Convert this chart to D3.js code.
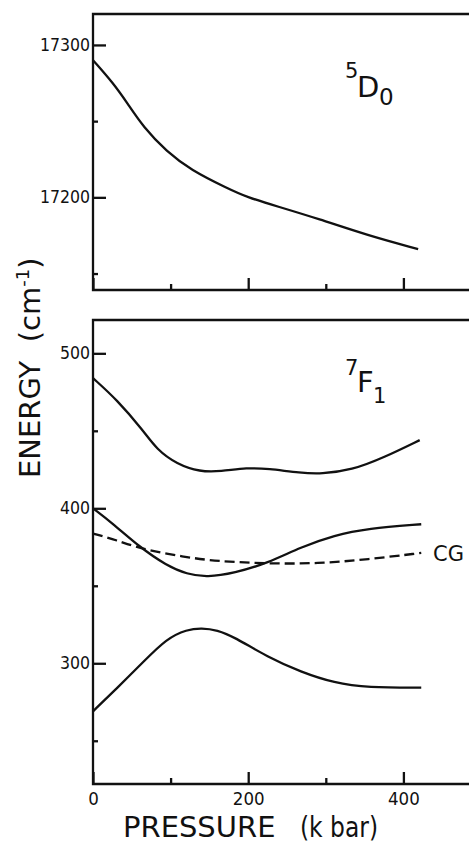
<!DOCTYPE html>
<html>
<head>
<meta charset="utf-8">
<script src="https://cdn.jsdelivr.net/npm/d3@7/dist/d3.min.js"></script>
<style>
  html, body { margin: 0; padding: 0; background: #fff; }
  svg { display: block; }
  text { fill: #111; }
</style>
</head>
<body>
<svg id="chart" width="469" height="844"></svg>
<script>
// ---- Data ----
// 5D0 level (top panel)
const d0Pressure = [0, 26, 44, 65, 95, 126, 173, 199, 238, 290, 354, 419];
const d0Energy   = [17290, 17275, 17262, 17246, 17230, 17218, 17206, 17200, 17194, 17186, 17175, 17166];

// 7F1 levels (bottom panel)
const f1UpperPressure = [0, 31, 65, 82, 108, 138, 164, 199, 225, 268, 294, 333, 376, 421];
const f1UpperEnergy   = [484, 470, 450, 438, 428.5, 423.5, 423.8, 426.2, 425.6, 422.8, 422.2, 424.5, 433, 444];

const f1MiddlePressure = [0, 26, 60, 95, 121, 147, 182, 225, 268, 311, 354, 423];
const f1MiddleEnergy   = [400, 390, 375, 363, 357.5, 355.5, 358.2, 364.6, 375, 382.6, 387, 389.7];

const f1LowerPressure = [0, 31, 65, 95, 121, 140, 160, 182, 225, 268, 311, 354, 423];
const f1LowerEnergy   = [269, 284, 301, 316, 321.8, 322.8, 321.5, 317, 304, 294.4, 287.3, 284.3, 284.3];

const cgPressure = [0, 31, 60, 117, 160, 225, 290, 354, 423];
const cgEnergy   = [383.7, 379.4, 374, 368.6, 365.8, 364.3, 364.3, 367, 371.2];

// Tick values
const xMajorTicks = [0, 200, 400];
const xMinorTicks = [100, 300];
const topMajorTicks = [17200, 17300];
const topMinorTicks = [17150, 17250];
const botMajorTicks = [300, 400, 500];
const botMinorTicks = [250, 350, 450];

// ---- Layout ----
const svg = d3.select("#chart");
const left = 93;
const x = d3.scaleLinear().domain([0, 500]).range([left, left + 0.776 * 500]);

const yTop = d3.scaleLinear().domain([17139.2, 17320.3]).range([290, 14]);
const yBot = d3.scaleLinear().domain([222.1, 521.5]).range([784, 320]);

const tickFont = "'DejaVu Sans Condensed', 'DejaVu Sans', sans-serif";
const strokeW = 2.3;

function frame(y) {
  const [y0, y1] = y.range(); // bottom, top
  svg.append("path")
    .attr("d", `M${x.range()[1] + 20},${y1}H${left}V${y0}H${x.range()[1] + 20}`)
    .attr("fill", "none").attr("stroke", "#111").attr("stroke-width", strokeW);
}

function yAxes(y, major, minor) {
  const gMaj = svg.append("g").attr("transform", `translate(${left},0)`)
    .call(d3.axisLeft(y).tickValues(major).tickSize(-13).tickSizeOuter(0).tickPadding(3).tickFormat(d3.format("d")));
  const gMin = svg.append("g").attr("transform", `translate(${left},0)`)
    .call(d3.axisLeft(y).tickValues(minor).tickSize(-5).tickSizeOuter(0).tickFormat(""));
  [gMaj, gMin].forEach(g => {
    g.select(".domain").remove();
    g.selectAll("line").attr("stroke", "#111").attr("stroke-width", strokeW);
    g.selectAll("text").attr("font-family", tickFont).attr("font-size", 17.5).attr("fill", "#111");
  });
}

function xAxes(y, labels) {
  const yb = y.range()[0];
  const ax = d3.axisBottom(x).tickValues(xMajorTicks).tickSize(-12).tickSizeOuter(0).tickPadding(8);
  if (!labels) ax.tickFormat("");
  const gMaj = svg.append("g").attr("transform", `translate(0,${yb})`).call(ax);
  const gMin = svg.append("g").attr("transform", `translate(0,${yb})`)
    .call(d3.axisBottom(x).tickValues(xMinorTicks).tickSize(-6).tickSizeOuter(0).tickFormat(""));
  [gMaj, gMin].forEach(g => {
    g.select(".domain").remove();
    g.selectAll("line").attr("stroke", "#111").attr("stroke-width", strokeW);
    g.selectAll("text").attr("font-family", tickFont).attr("font-size", 18.5).attr("fill", "#111");
  });
}

function curve(px, py, y, dash) {
  const pts = px.map((p, i) => [p, py[i]]);
  const line = d3.line().x(d => x(d[0])).y(d => y(d[1])).curve(d3.curveBasis);
  const path = svg.append("path").datum(pts)
    .attr("d", line).attr("fill", "none").attr("stroke", "#111")
    .attr("stroke-width", strokeW).attr("stroke-linejoin", "round");
  if (dash) path.attr("stroke-dasharray", dash);
}

// Top panel
frame(yTop);
yAxes(yTop, topMajorTicks, topMinorTicks);
xAxes(yTop, false);
curve(d0Pressure, d0Energy, yTop);

// Bottom panel
frame(yBot);
yAxes(yBot, botMajorTicks, botMinorTicks);
xAxes(yBot, true);
curve(f1UpperPressure, f1UpperEnergy, yBot);
curve(f1MiddlePressure, f1MiddleEnergy, yBot);
curve(f1LowerPressure, f1LowerEnergy, yBot);
curve(cgPressure, cgEnergy, yBot, "10,5");

// Level labels
const lblFont = "'DejaVu Sans', sans-serif";
const t1 = svg.append("text").attr("font-family", lblFont);
t1.append("tspan").attr("x", 345).attr("y", 78).attr("font-size", 21).text("5");
t1.append("tspan").attr("x", 357).attr("y", 97).attr("font-size", 29).text("D");
t1.append("tspan").attr("x", 379).attr("y", 105).attr("font-size", 23).text("0");

const t2 = svg.append("text").attr("font-family", lblFont);
t2.append("tspan").attr("x", 345).attr("y", 375).attr("font-size", 21).text("7");
t2.append("tspan").attr("x", 357).attr("y", 392).attr("font-size", 29).text("F");
t2.append("tspan").attr("x", 373).attr("y", 403).attr("font-size", 21).text("1");

svg.append("text").attr("x", 433).attr("y", 561).attr("font-family", lblFont)
  .attr("font-size", 21).text("CG");

// Axis titles
svg.append("text").attr("x", 123).attr("y", 837).attr("font-family", lblFont)
  .attr("font-size", 29).text("PRESSURE");
svg.append("text").attr("x", 300).attr("y", 837).attr("font-family", lblFont)
  .attr("font-size", 28).attr("textLength", 78).attr("lengthAdjust", "spacingAndGlyphs")
  .text("(k bar)");

const yt = svg.append("text").attr("font-family", lblFont).attr("font-size", 29)
  .attr("transform", "translate(40,478) rotate(-90)");
yt.append("tspan").text("ENERGY\u00a0\u00a0(cm");
yt.append("tspan").attr("font-size", 18).attr("dy", -11).text("-1");
yt.append("tspan").attr("dy", 11).text(")");
</script>
</body>
</html>
